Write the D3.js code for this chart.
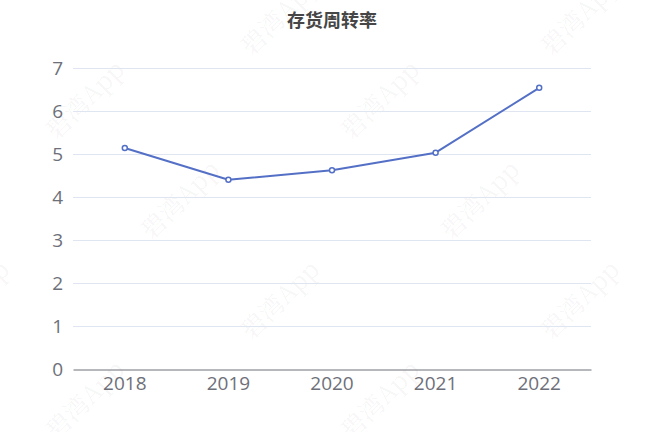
<!DOCTYPE html>
<html>
<head>
<meta charset="utf-8">
<script src="https://cdn.jsdelivr.net/npm/d3@7"></script>
<style>
  html, body { margin: 0; padding: 0; background: #fff; }
  svg { display: block; }
</style>
</head>
<body>
<svg id="chart" width="648" height="432"></svg>
<script>
// data
var years = ["2018", "2019", "2020", "2021", "2022"];
var turnover = [5.14, 4.40, 4.62, 5.03, 6.54];
var yTicks = [0, 1, 2, 3, 4, 5, 6, 7];
var titleText = "存货周转率";
var markText = "碧湾App";

var width = 648, height = 432;
var margin = {top: 68, right: 57, bottom: 63, left: 73};
var iw = width - margin.left - margin.right,
    ih = height - margin.top - margin.bottom;

var svg = d3.select("#chart");

// watermark layer
var marks = [[280, 16], [580, 16], [85, 100], [380, 100], [690, 100],
             [180, 200], [480, 200], [-30, 300], [280, 300], [580, 300],
             [85, 400], [380, 400], [690, 400]];
svg.append("g").selectAll("text")
    .data(marks)
  .enter().append("text")
    .attr("transform", function(d) { return "translate(" + d[0] + "," + d[1] + ") rotate(-45)"; })
    .attr("text-anchor", "middle")
    .attr("dy", ".35em")
    .style("font-family", "'Noto Serif CJK SC', 'Liberation Serif', serif")
    .style("font-size", "25px")
    .style("fill", "rgba(0,0,0,0.055)")
    .text(markText);

svg.append("text")
    .attr("x", 332)
    .attr("y", 27)
    .attr("text-anchor", "middle")
    .style("font-family", "'Noto Sans CJK SC', sans-serif")
    .style("font-size", "18px")
    .style("font-weight", "bold")
    .style("fill", "#464646")
    .text(titleText);

var g = svg.append("g")
    .attr("transform", "translate(" + margin.left + "," + margin.top + ")");

var x = d3.scaleBand().domain(years).range([0, iw]);
var y = d3.scaleLinear().domain([0, 7]).range([ih, 0]);

// grid
g.append("g").selectAll("line")
    .data(yTicks.filter(function(d) { return d > 0; }))
  .enter().append("line")
    .attr("x1", 0).attr("x2", iw)
    .attr("y1", function(d) { return Math.round(y(d)) + 0.5; })
    .attr("y2", function(d) { return Math.round(y(d)) + 0.5; })
    .style("stroke", "#E0E6F1")
    .style("stroke-width", 1);

// y axis labels
var yAxis = g.append("g")
    .call(d3.axisLeft(y).tickValues(yTicks).tickFormat(d3.format("d")).tickSize(0).tickPadding(10));
yAxis.select(".domain").remove();
yAxis.selectAll("text")
    .style("font-family", "'Open Sans', sans-serif")
    .style("font-size", "19px")
    .style("fill", "#6E7079");

// x axis
var xAxis = g.append("g")
    .attr("transform", "translate(0," + (Math.round(ih) + 0.5) + ")")
    .call(d3.axisBottom(x).tickSize(0).tickPadding(7));
xAxis.select(".domain").style("stroke", "#6E7079");
xAxis.selectAll("text")
    .style("font-family", "'Open Sans', sans-serif")
    .style("font-size", "19px")
    .style("fill", "#6E7079");

var pts = years.map(function(d, i) { return {year: d, value: turnover[i]}; });

var line = d3.line()
    .x(function(d) { return x(d.year) + x.bandwidth() / 2; })
    .y(function(d) { return y(d.value); });

g.append("path")
    .datum(pts)
    .attr("d", line)
    .style("fill", "none")
    .style("stroke", "#5470c6")
    .style("stroke-width", 2)
    .style("stroke-linejoin", "bevel");

g.append("g").selectAll("circle")
    .data(pts)
  .enter().append("circle")
    .attr("cx", function(d) { return x(d.year) + x.bandwidth() / 2; })
    .attr("cy", function(d) { return y(d.value); })
    .attr("r", 2.5)
    .style("fill", "#fff")
    .style("stroke", "#5470c6")
    .style("stroke-width", 1.5);
</script>
</body>
</html>
